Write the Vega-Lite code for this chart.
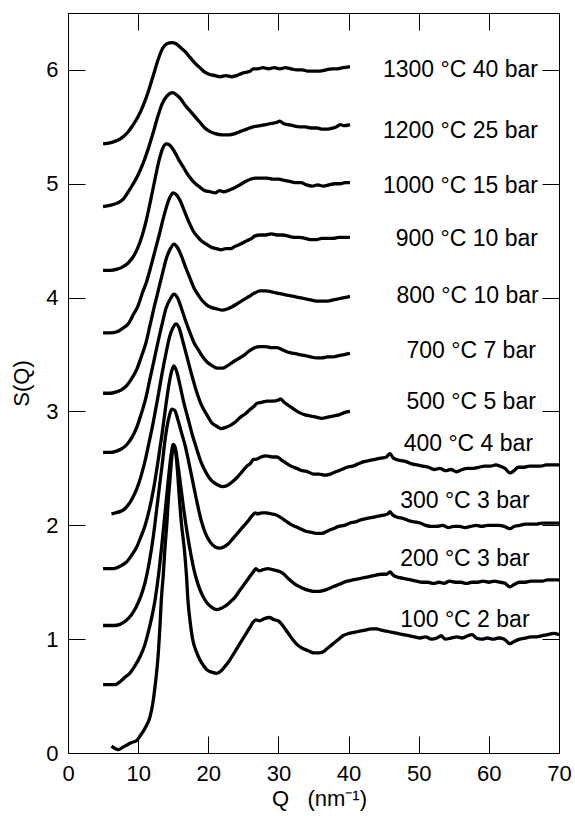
{
"$schema":"https://vega.github.io/schema/vega-lite/v6.json",
"width":491,"height":740,"autosize":"none",
"padding":{"left":68,"top":13,"right":16,"bottom":63},
"config":{"view":{"stroke":"#000","strokeWidth":1},"font":"Liberation Sans",
"axis":{"domain":false,"grid":false,"tickColor":"#000","tickSize":-17,"tickWidth":1,"labelFontSize":22,"labelColor":"#000","titleFontSize":22,"titleFontWeight":"normal","titleColor":"#000","labelFont":"Liberation Sans","titleFont":"Liberation Sans","labelFlush":false,"labelOverlap":false}},
"datasets":{
"labels":[
{"t":"1300 °C 40 bar","q":67.0,"s":5.94},
{"t":"1200 °C 25 bar","q":67.0,"s":5.405},
{"t":"1000 °C 15 bar","q":67.0,"s":4.92},
{"t":"900 °C 10 bar","q":67.0,"s":4.45},
{"t":"800 °C 10 bar","q":67.1,"s":3.95},
{"t":"700 °C 7 bar","q":66.7,"s":3.47},
{"t":"500 °C 5 bar","q":66.7,"s":3.02},
{"t":"400 °C 4 bar","q":66.3,"s":2.65},
{"t":"300 °C 3 bar","q":65.8,"s":2.15},
{"t":"200 °C 3 bar","q":65.8,"s":1.64},
{"t":"100 °C 2 bar","q":65.8,"s":1.11}],
"curves":[
{"c":"1300","q":5.0,"s":5.35},{"c":"1300","q":6.0,"s":5.36},{"c":"1300","q":7.0,"s":5.38},{"c":"1300","q":7.8,"s":5.41},{"c":"1300","q":8.5,"s":5.45},{"c":"1300","q":9.2,"s":5.51},{"c":"1300","q":10.0,"s":5.59},{"c":"1300","q":10.8,"s":5.70},{"c":"1300","q":11.5,"s":5.82},{"c":"1300","q":12.2,"s":5.96},{"c":"1300","q":12.9,"s":6.10},{"c":"1300","q":13.5,"s":6.19},{"c":"1300","q":14.1,"s":6.23},{"c":"1300","q":14.8,"s":6.24},{"c":"1300","q":15.4,"s":6.23},{"c":"1300","q":16.0,"s":6.20},{"c":"1300","q":16.7,"s":6.16},{"c":"1300","q":17.4,"s":6.11},{"c":"1300","q":18.1,"s":6.06},{"c":"1300","q":18.8,"s":6.02},{"c":"1300","q":19.5,"s":5.98},{"c":"1300","q":20.2,"s":5.96},{"c":"1300","q":21.0,"s":5.95},{"c":"1300","q":21.7,"s":5.94},{"c":"1300","q":22.5,"s":5.95},{"c":"1300","q":23.3,"s":5.94},{"c":"1300","q":24.0,"s":5.95},{"c":"1300","q":24.8,"s":5.97},{"c":"1300","q":25.5,"s":5.98},{"c":"1300","q":26.0,"s":5.99},{"c":"1300","q":26.4,"s":6.01},{"c":"1300","q":27.0,"s":6.01},{"c":"1300","q":27.8,"s":6.02},{"c":"1300","q":28.6,"s":6.01},{"c":"1300","q":29.4,"s":6.02},{"c":"1300","q":30.2,"s":6.01},{"c":"1300","q":31.0,"s":6.02},{"c":"1300","q":31.8,"s":6.01},{"c":"1300","q":32.6,"s":6.00},{"c":"1300","q":33.4,"s":6.00},{"c":"1300","q":34.2,"s":5.99},{"c":"1300","q":35.0,"s":5.99},{"c":"1300","q":35.9,"s":5.99},{"c":"1300","q":36.8,"s":6.00},{"c":"1300","q":37.6,"s":6.01},{"c":"1300","q":38.4,"s":6.01},{"c":"1300","q":39.2,"s":6.02},{"c":"1300","q":40.2,"s":6.03},
{"c":"1200","q":5.0,"s":4.80},{"c":"1200","q":6.0,"s":4.81},{"c":"1200","q":7.0,"s":4.83},{"c":"1200","q":7.8,"s":4.86},{"c":"1200","q":8.6,"s":4.93},{"c":"1200","q":9.3,"s":5.00},{"c":"1200","q":10.0,"s":5.08},{"c":"1200","q":10.7,"s":5.18},{"c":"1200","q":11.4,"s":5.30},{"c":"1200","q":12.1,"s":5.44},{"c":"1200","q":12.8,"s":5.59},{"c":"1200","q":13.4,"s":5.70},{"c":"1200","q":14.1,"s":5.77},{"c":"1200","q":14.9,"s":5.80},{"c":"1200","q":15.5,"s":5.78},{"c":"1200","q":16.0,"s":5.75},{"c":"1200","q":16.7,"s":5.69},{"c":"1200","q":17.4,"s":5.64},{"c":"1200","q":18.1,"s":5.59},{"c":"1200","q":18.8,"s":5.54},{"c":"1200","q":19.5,"s":5.49},{"c":"1200","q":20.2,"s":5.46},{"c":"1200","q":21.0,"s":5.44},{"c":"1200","q":22.0,"s":5.43},{"c":"1200","q":23.0,"s":5.43},{"c":"1200","q":23.8,"s":5.44},{"c":"1200","q":24.6,"s":5.46},{"c":"1200","q":25.5,"s":5.48},{"c":"1200","q":26.4,"s":5.50},{"c":"1200","q":27.4,"s":5.51},{"c":"1200","q":28.2,"s":5.52},{"c":"1200","q":29.0,"s":5.53},{"c":"1200","q":29.8,"s":5.54},{"c":"1200","q":30.2,"s":5.55},{"c":"1200","q":30.7,"s":5.53},{"c":"1200","q":31.4,"s":5.52},{"c":"1200","q":32.1,"s":5.51},{"c":"1200","q":33.0,"s":5.50},{"c":"1200","q":33.8,"s":5.50},{"c":"1200","q":34.6,"s":5.49},{"c":"1200","q":35.5,"s":5.49},{"c":"1200","q":36.3,"s":5.48},{"c":"1200","q":37.0,"s":5.48},{"c":"1200","q":37.8,"s":5.49},{"c":"1200","q":38.3,"s":5.50},{"c":"1200","q":38.8,"s":5.52},{"c":"1200","q":39.3,"s":5.51},{"c":"1200","q":40.2,"s":5.52},
{"c":"1000","q":5.0,"s":4.24},{"c":"1000","q":6.0,"s":4.24},{"c":"1000","q":7.0,"s":4.25},{"c":"1000","q":7.8,"s":4.27},{"c":"1000","q":8.5,"s":4.30},{"c":"1000","q":9.2,"s":4.35},{"c":"1000","q":9.9,"s":4.43},{"c":"1000","q":10.6,"s":4.55},{"c":"1000","q":11.2,"s":4.69},{"c":"1000","q":11.8,"s":4.86},{"c":"1000","q":12.4,"s":5.04},{"c":"1000","q":13.0,"s":5.21},{"c":"1000","q":13.5,"s":5.31},{"c":"1000","q":14.0,"s":5.35},{"c":"1000","q":14.5,"s":5.34},{"c":"1000","q":15.1,"s":5.29},{"c":"1000","q":15.8,"s":5.21},{"c":"1000","q":16.5,"s":5.14},{"c":"1000","q":17.2,"s":5.07},{"c":"1000","q":18.0,"s":5.01},{"c":"1000","q":18.8,"s":4.97},{"c":"1000","q":19.5,"s":4.94},{"c":"1000","q":20.3,"s":4.93},{"c":"1000","q":21.0,"s":4.92},{"c":"1000","q":21.6,"s":4.94},{"c":"1000","q":22.2,"s":4.93},{"c":"1000","q":22.8,"s":4.94},{"c":"1000","q":23.6,"s":4.96},{"c":"1000","q":24.5,"s":4.99},{"c":"1000","q":25.3,"s":5.02},{"c":"1000","q":26.0,"s":5.04},{"c":"1000","q":26.8,"s":5.05},{"c":"1000","q":27.6,"s":5.05},{"c":"1000","q":28.4,"s":5.05},{"c":"1000","q":29.2,"s":5.04},{"c":"1000","q":30.0,"s":5.04},{"c":"1000","q":30.8,"s":5.03},{"c":"1000","q":31.6,"s":5.02},{"c":"1000","q":32.4,"s":5.01},{"c":"1000","q":33.2,"s":5.01},{"c":"1000","q":34.0,"s":4.99},{"c":"1000","q":34.8,"s":4.98},{"c":"1000","q":35.6,"s":4.99},{"c":"1000","q":36.4,"s":4.98},{"c":"1000","q":37.2,"s":4.99},{"c":"1000","q":38.0,"s":5.00},{"c":"1000","q":38.8,"s":5.00},{"c":"1000","q":39.5,"s":5.01},{"c":"1000","q":40.2,"s":5.01},
{"c":"900","q":5.0,"s":3.69},{"c":"900","q":6.0,"s":3.69},{"c":"900","q":7.0,"s":3.70},{"c":"900","q":7.8,"s":3.73},{"c":"900","q":8.6,"s":3.77},{"c":"900","q":9.3,"s":3.85},{"c":"900","q":10.0,"s":3.93},{"c":"900","q":10.6,"s":4.04},{"c":"900","q":11.2,"s":4.14},{"c":"900","q":11.8,"s":4.27},{"c":"900","q":12.4,"s":4.41},{"c":"900","q":13.0,"s":4.55},{"c":"900","q":13.6,"s":4.70},{"c":"900","q":14.1,"s":4.81},{"c":"900","q":14.6,"s":4.89},{"c":"900","q":15.0,"s":4.92},{"c":"900","q":15.5,"s":4.90},{"c":"900","q":16.0,"s":4.85},{"c":"900","q":16.6,"s":4.76},{"c":"900","q":17.2,"s":4.67},{"c":"900","q":17.8,"s":4.59},{"c":"900","q":18.4,"s":4.54},{"c":"900","q":19.0,"s":4.50},{"c":"900","q":19.7,"s":4.47},{"c":"900","q":20.5,"s":4.44},{"c":"900","q":21.2,"s":4.43},{"c":"900","q":21.8,"s":4.42},{"c":"900","q":22.5,"s":4.43},{"c":"900","q":23.2,"s":4.43},{"c":"900","q":23.8,"s":4.45},{"c":"900","q":24.6,"s":4.47},{"c":"900","q":25.5,"s":4.50},{"c":"900","q":26.2,"s":4.52},{"c":"900","q":26.6,"s":4.54},{"c":"900","q":27.4,"s":4.55},{"c":"900","q":28.2,"s":4.55},{"c":"900","q":29.0,"s":4.56},{"c":"900","q":29.8,"s":4.55},{"c":"900","q":30.6,"s":4.55},{"c":"900","q":31.4,"s":4.54},{"c":"900","q":32.2,"s":4.53},{"c":"900","q":33.0,"s":4.53},{"c":"900","q":33.8,"s":4.52},{"c":"900","q":34.6,"s":4.51},{"c":"900","q":35.4,"s":4.51},{"c":"900","q":36.2,"s":4.52},{"c":"900","q":37.0,"s":4.52},{"c":"900","q":37.8,"s":4.52},{"c":"900","q":38.6,"s":4.53},{"c":"900","q":39.4,"s":4.53},{"c":"900","q":40.2,"s":4.53},
{"c":"800","q":5.0,"s":3.16},{"c":"800","q":6.0,"s":3.16},{"c":"800","q":6.8,"s":3.17},{"c":"800","q":7.6,"s":3.19},{"c":"800","q":8.4,"s":3.23},{"c":"800","q":9.1,"s":3.29},{"c":"800","q":9.8,"s":3.37},{"c":"800","q":10.5,"s":3.49},{"c":"800","q":11.1,"s":3.60},{"c":"800","q":11.7,"s":3.76},{"c":"800","q":12.3,"s":3.92},{"c":"800","q":12.9,"s":4.07},{"c":"800","q":13.5,"s":4.22},{"c":"800","q":14.0,"s":4.34},{"c":"800","q":14.6,"s":4.43},{"c":"800","q":15.1,"s":4.47},{"c":"800","q":15.6,"s":4.44},{"c":"800","q":16.2,"s":4.36},{"c":"800","q":16.8,"s":4.26},{"c":"800","q":17.4,"s":4.17},{"c":"800","q":18.0,"s":4.08},{"c":"800","q":18.6,"s":4.02},{"c":"800","q":19.2,"s":3.97},{"c":"800","q":19.9,"s":3.93},{"c":"800","q":20.6,"s":3.91},{"c":"800","q":21.3,"s":3.90},{"c":"800","q":22.0,"s":3.89},{"c":"800","q":22.7,"s":3.90},{"c":"800","q":23.4,"s":3.92},{"c":"800","q":24.2,"s":3.95},{"c":"800","q":25.0,"s":3.98},{"c":"800","q":25.8,"s":4.01},{"c":"800","q":26.6,"s":4.04},{"c":"800","q":27.4,"s":4.06},{"c":"800","q":28.2,"s":4.06},{"c":"800","q":29.0,"s":4.05},{"c":"800","q":29.8,"s":4.04},{"c":"800","q":30.6,"s":4.03},{"c":"800","q":31.4,"s":4.02},{"c":"800","q":32.2,"s":4.01},{"c":"800","q":33.0,"s":4.00},{"c":"800","q":33.8,"s":3.99},{"c":"800","q":34.6,"s":3.98},{"c":"800","q":35.4,"s":3.97},{"c":"800","q":36.2,"s":3.97},{"c":"800","q":37.0,"s":3.97},{"c":"800","q":37.8,"s":3.98},{"c":"800","q":38.6,"s":3.99},{"c":"800","q":39.4,"s":4.00},{"c":"800","q":40.2,"s":4.01},
{"c":"700","q":5.0,"s":2.64},{"c":"700","q":6.0,"s":2.64},{"c":"700","q":6.8,"s":2.65},{"c":"700","q":7.6,"s":2.67},{"c":"700","q":8.4,"s":2.71},{"c":"700","q":9.1,"s":2.77},{"c":"700","q":9.8,"s":2.86},{"c":"700","q":10.5,"s":2.99},{"c":"700","q":11.1,"s":3.12},{"c":"700","q":11.7,"s":3.29},{"c":"700","q":12.3,"s":3.46},{"c":"700","q":12.9,"s":3.63},{"c":"700","q":13.5,"s":3.79},{"c":"700","q":14.0,"s":3.91},{"c":"700","q":14.6,"s":3.99},{"c":"700","q":15.1,"s":4.03},{"c":"700","q":15.6,"s":4.00},{"c":"700","q":16.2,"s":3.90},{"c":"700","q":16.8,"s":3.79},{"c":"700","q":17.4,"s":3.69},{"c":"700","q":18.0,"s":3.60},{"c":"700","q":18.6,"s":3.54},{"c":"700","q":19.2,"s":3.48},{"c":"700","q":19.9,"s":3.43},{"c":"700","q":20.6,"s":3.40},{"c":"700","q":21.3,"s":3.38},{"c":"700","q":22.0,"s":3.38},{"c":"700","q":22.7,"s":3.40},{"c":"700","q":23.4,"s":3.43},{"c":"700","q":24.2,"s":3.46},{"c":"700","q":25.0,"s":3.49},{"c":"700","q":25.8,"s":3.53},{"c":"700","q":26.6,"s":3.56},{"c":"700","q":27.4,"s":3.57},{"c":"700","q":28.2,"s":3.57},{"c":"700","q":29.0,"s":3.56},{"c":"700","q":29.8,"s":3.56},{"c":"700","q":30.6,"s":3.54},{"c":"700","q":31.4,"s":3.52},{"c":"700","q":32.2,"s":3.51},{"c":"700","q":33.0,"s":3.50},{"c":"700","q":33.8,"s":3.49},{"c":"700","q":34.6,"s":3.48},{"c":"700","q":35.4,"s":3.47},{"c":"700","q":36.2,"s":3.47},{"c":"700","q":37.0,"s":3.48},{"c":"700","q":37.8,"s":3.48},{"c":"700","q":38.6,"s":3.49},{"c":"700","q":39.4,"s":3.50},{"c":"700","q":40.2,"s":3.51},
{"c":"500","q":6.2,"s":2.10},{"c":"500","q":6.8,"s":2.11},{"c":"500","q":7.4,"s":2.12},{"c":"500","q":8.0,"s":2.14},{"c":"500","q":8.6,"s":2.18},{"c":"500","q":9.2,"s":2.24},{"c":"500","q":9.8,"s":2.32},{"c":"500","q":10.4,"s":2.43},{"c":"500","q":11.0,"s":2.57},{"c":"500","q":11.6,"s":2.74},{"c":"500","q":12.2,"s":2.92},{"c":"500","q":12.8,"s":3.12},{"c":"500","q":13.4,"s":3.33},{"c":"500","q":14.0,"s":3.52},{"c":"500","q":14.5,"s":3.66},{"c":"500","q":15.0,"s":3.74},{"c":"500","q":15.4,"s":3.77},{"c":"500","q":15.8,"s":3.74},{"c":"500","q":16.4,"s":3.61},{"c":"500","q":17.0,"s":3.47},{"c":"500","q":17.6,"s":3.33},{"c":"500","q":18.3,"s":3.18},{"c":"500","q":19.0,"s":3.06},{"c":"500","q":19.8,"s":2.97},{"c":"500","q":20.5,"s":2.90},{"c":"500","q":21.2,"s":2.87},{"c":"500","q":21.8,"s":2.85},{"c":"500","q":22.5,"s":2.86},{"c":"500","q":23.2,"s":2.88},{"c":"500","q":23.9,"s":2.91},{"c":"500","q":24.6,"s":2.95},{"c":"500","q":25.3,"s":2.98},{"c":"500","q":26.0,"s":3.02},{"c":"500","q":26.6,"s":3.05},{"c":"500","q":26.9,"s":3.07},{"c":"500","q":27.6,"s":3.08},{"c":"500","q":28.4,"s":3.09},{"c":"500","q":29.2,"s":3.09},{"c":"500","q":30.0,"s":3.10},{"c":"500","q":30.3,"s":3.11},{"c":"500","q":30.8,"s":3.08},{"c":"500","q":31.5,"s":3.05},{"c":"500","q":32.2,"s":3.02},{"c":"500","q":33.0,"s":2.99},{"c":"500","q":33.8,"s":2.97},{"c":"500","q":34.6,"s":2.96},{"c":"500","q":35.4,"s":2.95},{"c":"500","q":36.2,"s":2.94},{"c":"500","q":37.0,"s":2.95},{"c":"500","q":37.8,"s":2.96},{"c":"500","q":38.6,"s":2.97},{"c":"500","q":39.4,"s":2.99},{"c":"500","q":40.2,"s":3.00},
{"c":"400","q":5.0,"s":1.62},{"c":"400","q":5.8,"s":1.62},{"c":"400","q":6.5,"s":1.62},{"c":"400","q":7.4,"s":1.64},{"c":"400","q":8.4,"s":1.68},{"c":"400","q":9.1,"s":1.74},{"c":"400","q":9.8,"s":1.81},{"c":"400","q":10.4,"s":1.90},{"c":"400","q":11.0,"s":2.00},{"c":"400","q":11.6,"s":2.14},{"c":"400","q":12.2,"s":2.32},{"c":"400","q":12.8,"s":2.55},{"c":"400","q":13.4,"s":2.80},{"c":"400","q":13.9,"s":3.03},{"c":"400","q":14.4,"s":3.24},{"c":"400","q":14.8,"s":3.36},{"c":"400","q":15.1,"s":3.40},{"c":"400","q":15.5,"s":3.35},{"c":"400","q":16.0,"s":3.22},{"c":"400","q":16.5,"s":3.08},{"c":"400","q":17.1,"s":2.94},{"c":"400","q":17.7,"s":2.80},{"c":"400","q":18.3,"s":2.68},{"c":"400","q":19.0,"s":2.55},{"c":"400","q":19.8,"s":2.45},{"c":"400","q":20.5,"s":2.39},{"c":"400","q":21.2,"s":2.36},{"c":"400","q":22.0,"s":2.34},{"c":"400","q":22.7,"s":2.35},{"c":"400","q":23.4,"s":2.38},{"c":"400","q":24.1,"s":2.42},{"c":"400","q":24.8,"s":2.47},{"c":"400","q":25.5,"s":2.52},{"c":"400","q":26.1,"s":2.55},{"c":"400","q":26.4,"s":2.58},{"c":"400","q":26.8,"s":2.58},{"c":"400","q":27.5,"s":2.60},{"c":"400","q":28.3,"s":2.61},{"c":"400","q":29.1,"s":2.60},{"c":"400","q":29.8,"s":2.60},{"c":"400","q":30.3,"s":2.58},{"c":"400","q":31.0,"s":2.55},{"c":"400","q":31.8,"s":2.52},{"c":"400","q":32.6,"s":2.50},{"c":"400","q":33.4,"s":2.48},{"c":"400","q":34.2,"s":2.47},{"c":"400","q":35.0,"s":2.45},{"c":"400","q":35.8,"s":2.45},{"c":"400","q":36.6,"s":2.44},{"c":"400","q":37.4,"s":2.45},{"c":"400","q":38.2,"s":2.47},{"c":"400","q":39.0,"s":2.49},{"c":"400","q":39.8,"s":2.51},{"c":"400","q":40.6,"s":2.52},{"c":"400","q":41.4,"s":2.54},{"c":"400","q":42.2,"s":2.56},{"c":"400","q":43.0,"s":2.57},{"c":"400","q":43.8,"s":2.58},{"c":"400","q":44.6,"s":2.59},{"c":"400","q":45.4,"s":2.60},{"c":"400","q":45.9,"s":2.63},{"c":"400","q":46.4,"s":2.59},{"c":"400","q":47.3,"s":2.57},{"c":"400","q":48.2,"s":2.56},{"c":"400","q":49.0,"s":2.54},{"c":"400","q":49.8,"s":2.53},{"c":"400","q":50.6,"s":2.52},{"c":"400","q":51.4,"s":2.51},{"c":"400","q":52.2,"s":2.49},{"c":"400","q":53.0,"s":2.50},{"c":"400","q":53.8,"s":2.48},{"c":"400","q":54.6,"s":2.49},{"c":"400","q":55.4,"s":2.47},{"c":"400","q":56.2,"s":2.49},{"c":"400","q":57.0,"s":2.50},{"c":"400","q":57.8,"s":2.50},{"c":"400","q":58.6,"s":2.51},{"c":"400","q":59.4,"s":2.52},{"c":"400","q":60.2,"s":2.52},{"c":"400","q":61.0,"s":2.53},{"c":"400","q":61.6,"s":2.52},{"c":"400","q":62.3,"s":2.50},{"c":"400","q":63.0,"s":2.46},{"c":"400","q":63.6,"s":2.48},{"c":"400","q":64.2,"s":2.51},{"c":"400","q":65.0,"s":2.51},{"c":"400","q":65.8,"s":2.52},{"c":"400","q":66.6,"s":2.52},{"c":"400","q":67.4,"s":2.52},{"c":"400","q":68.2,"s":2.53},{"c":"400","q":69.0,"s":2.53},{"c":"400","q":70.0,"s":2.53},
{"c":"300","q":5.0,"s":1.12},{"c":"300","q":5.8,"s":1.12},{"c":"300","q":6.6,"s":1.12},{"c":"300","q":7.4,"s":1.13},{"c":"300","q":8.2,"s":1.16},{"c":"300","q":9.0,"s":1.21},{"c":"300","q":9.7,"s":1.28},{"c":"300","q":10.4,"s":1.38},{"c":"300","q":11.0,"s":1.50},{"c":"300","q":11.6,"s":1.68},{"c":"300","q":12.2,"s":1.92},{"c":"300","q":12.8,"s":2.22},{"c":"300","q":13.4,"s":2.52},{"c":"300","q":13.9,"s":2.78},{"c":"300","q":14.4,"s":2.95},{"c":"300","q":14.8,"s":3.02},{"c":"300","q":15.2,"s":3.01},{"c":"300","q":15.7,"s":2.92},{"c":"300","q":16.2,"s":2.81},{"c":"300","q":16.7,"s":2.70},{"c":"300","q":17.2,"s":2.56},{"c":"300","q":17.8,"s":2.38},{"c":"300","q":18.4,"s":2.20},{"c":"300","q":19.0,"s":2.04},{"c":"300","q":19.6,"s":1.93},{"c":"300","q":20.3,"s":1.85},{"c":"300","q":21.0,"s":1.81},{"c":"300","q":21.6,"s":1.80},{"c":"300","q":22.2,"s":1.81},{"c":"300","q":22.9,"s":1.84},{"c":"300","q":23.6,"s":1.89},{"c":"300","q":24.3,"s":1.94},{"c":"300","q":25.0,"s":1.99},{"c":"300","q":25.7,"s":2.04},{"c":"300","q":26.2,"s":2.08},{"c":"300","q":26.7,"s":2.11},{"c":"300","q":27.0,"s":2.10},{"c":"300","q":27.6,"s":2.11},{"c":"300","q":28.3,"s":2.11},{"c":"300","q":29.0,"s":2.10},{"c":"300","q":29.7,"s":2.09},{"c":"300","q":30.3,"s":2.07},{"c":"300","q":31.0,"s":2.04},{"c":"300","q":31.7,"s":2.01},{"c":"300","q":32.4,"s":1.99},{"c":"300","q":33.1,"s":1.97},{"c":"300","q":33.8,"s":1.95},{"c":"300","q":34.6,"s":1.94},{"c":"300","q":35.4,"s":1.93},{"c":"300","q":36.2,"s":1.93},{"c":"300","q":37.0,"s":1.95},{"c":"300","q":37.8,"s":1.97},{"c":"300","q":38.6,"s":1.99},{"c":"300","q":39.4,"s":2.00},{"c":"300","q":40.2,"s":2.02},{"c":"300","q":41.0,"s":2.03},{"c":"300","q":41.8,"s":2.05},{"c":"300","q":42.6,"s":2.06},{"c":"300","q":43.4,"s":2.07},{"c":"300","q":44.2,"s":2.08},{"c":"300","q":45.0,"s":2.09},{"c":"300","q":45.6,"s":2.10},{"c":"300","q":45.9,"s":2.12},{"c":"300","q":46.3,"s":2.09},{"c":"300","q":47.0,"s":2.07},{"c":"300","q":47.8,"s":2.06},{"c":"300","q":48.6,"s":2.04},{"c":"300","q":49.4,"s":2.03},{"c":"300","q":50.2,"s":2.02},{"c":"300","q":51.0,"s":2.00},{"c":"300","q":51.8,"s":1.99},{"c":"300","q":52.6,"s":1.99},{"c":"300","q":53.4,"s":2.00},{"c":"300","q":54.2,"s":1.98},{"c":"300","q":55.0,"s":1.99},{"c":"300","q":55.8,"s":1.99},{"c":"300","q":56.6,"s":1.98},{"c":"300","q":57.4,"s":1.99},{"c":"300","q":58.2,"s":2.00},{"c":"300","q":59.0,"s":1.99},{"c":"300","q":59.8,"s":2.00},{"c":"300","q":60.6,"s":2.00},{"c":"300","q":61.4,"s":2.00},{"c":"300","q":62.2,"s":1.99},{"c":"300","q":63.0,"s":1.97},{"c":"300","q":63.6,"s":1.99},{"c":"300","q":64.4,"s":2.00},{"c":"300","q":65.2,"s":2.01},{"c":"300","q":66.0,"s":2.01},{"c":"300","q":66.8,"s":2.01},{"c":"300","q":67.6,"s":2.02},{"c":"300","q":68.4,"s":2.02},{"c":"300","q":69.2,"s":2.02},{"c":"300","q":70.0,"s":2.02},
{"c":"200","q":5.0,"s":0.60},{"c":"200","q":5.8,"s":0.60},{"c":"200","q":6.7,"s":0.60},{"c":"200","q":7.5,"s":0.63},{"c":"200","q":8.2,"s":0.67},{"c":"200","q":8.8,"s":0.70},{"c":"200","q":9.5,"s":0.76},{"c":"200","q":10.3,"s":0.85},{"c":"200","q":10.9,"s":0.94},{"c":"200","q":11.4,"s":1.05},{"c":"200","q":11.9,"s":1.18},{"c":"200","q":12.4,"s":1.34},{"c":"200","q":12.9,"s":1.56},{"c":"200","q":13.4,"s":1.84},{"c":"200","q":13.9,"s":2.15},{"c":"200","q":14.3,"s":2.40},{"c":"200","q":14.7,"s":2.62},{"c":"200","q":15.0,"s":2.71},{"c":"200","q":15.3,"s":2.68},{"c":"200","q":15.7,"s":2.52},{"c":"200","q":16.1,"s":2.33},{"c":"200","q":16.5,"s":2.14},{"c":"200","q":17.0,"s":1.93},{"c":"200","q":17.5,"s":1.75},{"c":"200","q":18.0,"s":1.60},{"c":"200","q":18.6,"s":1.47},{"c":"200","q":19.2,"s":1.38},{"c":"200","q":19.8,"s":1.32},{"c":"200","q":20.5,"s":1.28},{"c":"200","q":21.2,"s":1.26},{"c":"200","q":21.8,"s":1.27},{"c":"200","q":22.4,"s":1.29},{"c":"200","q":23.0,"s":1.32},{"c":"200","q":23.7,"s":1.36},{"c":"200","q":24.4,"s":1.42},{"c":"200","q":25.1,"s":1.48},{"c":"200","q":25.8,"s":1.54},{"c":"200","q":26.4,"s":1.59},{"c":"200","q":26.8,"s":1.62},{"c":"200","q":27.2,"s":1.60},{"c":"200","q":27.8,"s":1.61},{"c":"200","q":28.5,"s":1.62},{"c":"200","q":29.2,"s":1.61},{"c":"200","q":29.9,"s":1.60},{"c":"200","q":30.6,"s":1.58},{"c":"200","q":31.3,"s":1.54},{"c":"200","q":32.0,"s":1.50},{"c":"200","q":32.7,"s":1.47},{"c":"200","q":33.4,"s":1.45},{"c":"200","q":34.2,"s":1.43},{"c":"200","q":35.0,"s":1.42},{"c":"200","q":35.8,"s":1.42},{"c":"200","q":36.6,"s":1.43},{"c":"200","q":37.4,"s":1.45},{"c":"200","q":38.2,"s":1.47},{"c":"200","q":39.0,"s":1.49},{"c":"200","q":39.8,"s":1.51},{"c":"200","q":40.6,"s":1.52},{"c":"200","q":41.4,"s":1.53},{"c":"200","q":42.2,"s":1.54},{"c":"200","q":43.0,"s":1.55},{"c":"200","q":43.8,"s":1.56},{"c":"200","q":44.6,"s":1.57},{"c":"200","q":45.4,"s":1.57},{"c":"200","q":45.9,"s":1.59},{"c":"200","q":46.4,"s":1.56},{"c":"200","q":47.3,"s":1.54},{"c":"200","q":48.1,"s":1.53},{"c":"200","q":48.9,"s":1.52},{"c":"200","q":49.7,"s":1.51},{"c":"200","q":50.5,"s":1.50},{"c":"200","q":51.3,"s":1.50},{"c":"200","q":52.1,"s":1.49},{"c":"200","q":52.9,"s":1.50},{"c":"200","q":53.6,"s":1.49},{"c":"200","q":54.4,"s":1.51},{"c":"200","q":55.2,"s":1.50},{"c":"200","q":56.0,"s":1.50},{"c":"200","q":56.8,"s":1.49},{"c":"200","q":57.6,"s":1.50},{"c":"200","q":58.4,"s":1.50},{"c":"200","q":59.2,"s":1.51},{"c":"200","q":60.0,"s":1.50},{"c":"200","q":60.8,"s":1.51},{"c":"200","q":61.6,"s":1.50},{"c":"200","q":62.3,"s":1.49},{"c":"200","q":63.0,"s":1.46},{"c":"200","q":63.6,"s":1.48},{"c":"200","q":64.4,"s":1.50},{"c":"200","q":65.2,"s":1.50},{"c":"200","q":66.0,"s":1.51},{"c":"200","q":66.8,"s":1.51},{"c":"200","q":67.6,"s":1.51},{"c":"200","q":68.4,"s":1.52},{"c":"200","q":69.2,"s":1.52},{"c":"200","q":70.0,"s":1.52},
{"c":"100","q":6.2,"s":0.06},{"c":"100","q":6.7,"s":0.04},{"c":"100","q":7.2,"s":0.03},{"c":"100","q":7.8,"s":0.05},{"c":"100","q":8.4,"s":0.07},{"c":"100","q":9.0,"s":0.09},{"c":"100","q":9.8,"s":0.11},{"c":"100","q":10.4,"s":0.16},{"c":"100","q":11.0,"s":0.22},{"c":"100","q":11.7,"s":0.32},{"c":"100","q":12.1,"s":0.44},{"c":"100","q":12.4,"s":0.58},{"c":"100","q":12.7,"s":0.75},{"c":"100","q":12.9,"s":0.90},{"c":"100","q":13.1,"s":1.10},{"c":"100","q":13.3,"s":1.34},{"c":"100","q":13.6,"s":1.58},{"c":"100","q":13.8,"s":1.78},{"c":"100","q":14.1,"s":2.02},{"c":"100","q":14.3,"s":2.22},{"c":"100","q":14.6,"s":2.45},{"c":"100","q":14.8,"s":2.60},{"c":"100","q":15.1,"s":2.69},{"c":"100","q":15.4,"s":2.62},{"c":"100","q":15.7,"s":2.40},{"c":"100","q":15.9,"s":2.22},{"c":"100","q":16.2,"s":2.00},{"c":"100","q":16.6,"s":1.78},{"c":"100","q":16.9,"s":1.55},{"c":"100","q":17.1,"s":1.34},{"c":"100","q":17.4,"s":1.16},{"c":"100","q":17.8,"s":0.99},{"c":"100","q":18.3,"s":0.89},{"c":"100","q":18.8,"s":0.82},{"c":"100","q":19.3,"s":0.77},{"c":"100","q":19.8,"s":0.73},{"c":"100","q":20.5,"s":0.71},{"c":"100","q":21.2,"s":0.70},{"c":"100","q":21.8,"s":0.72},{"c":"100","q":22.5,"s":0.77},{"c":"100","q":23.0,"s":0.81},{"c":"100","q":23.5,"s":0.86},{"c":"100","q":24.2,"s":0.93},{"c":"100","q":24.9,"s":1.00},{"c":"100","q":25.5,"s":1.06},{"c":"100","q":26.0,"s":1.11},{"c":"100","q":26.4,"s":1.15},{"c":"100","q":26.8,"s":1.17},{"c":"100","q":27.3,"s":1.16},{"c":"100","q":28.0,"s":1.18},{"c":"100","q":28.7,"s":1.19},{"c":"100","q":29.4,"s":1.17},{"c":"100","q":30.0,"s":1.16},{"c":"100","q":30.6,"s":1.12},{"c":"100","q":31.3,"s":1.06},{"c":"100","q":32.0,"s":1.00},{"c":"100","q":32.7,"s":0.95},{"c":"100","q":33.4,"s":0.92},{"c":"100","q":34.2,"s":0.90},{"c":"100","q":35.0,"s":0.88},{"c":"100","q":35.7,"s":0.88},{"c":"100","q":36.4,"s":0.89},{"c":"100","q":37.0,"s":0.92},{"c":"100","q":37.6,"s":0.95},{"c":"100","q":38.4,"s":0.99},{"c":"100","q":39.2,"s":1.03},{"c":"100","q":40.0,"s":1.05},{"c":"100","q":40.8,"s":1.06},{"c":"100","q":41.6,"s":1.07},{"c":"100","q":42.4,"s":1.08},{"c":"100","q":43.2,"s":1.09},{"c":"100","q":44.0,"s":1.09},{"c":"100","q":44.6,"s":1.08},{"c":"100","q":45.4,"s":1.07},{"c":"100","q":46.2,"s":1.06},{"c":"100","q":47.0,"s":1.05},{"c":"100","q":47.8,"s":1.04},{"c":"100","q":48.6,"s":1.03},{"c":"100","q":49.4,"s":1.02},{"c":"100","q":50.2,"s":1.01},{"c":"100","q":51.0,"s":1.02},{"c":"100","q":51.8,"s":1.00},{"c":"100","q":52.6,"s":1.01},{"c":"100","q":53.2,"s":1.03},{"c":"100","q":53.8,"s":1.00},{"c":"100","q":54.6,"s":1.01},{"c":"100","q":55.4,"s":1.02},{"c":"100","q":56.2,"s":1.01},{"c":"100","q":57.0,"s":1.03},{"c":"100","q":57.6,"s":1.04},{"c":"100","q":58.2,"s":1.01},{"c":"100","q":59.0,"s":1.00},{"c":"100","q":59.8,"s":1.01},{"c":"100","q":60.6,"s":1.00},{"c":"100","q":61.4,"s":1.01},{"c":"100","q":62.2,"s":1.00},{"c":"100","q":63.0,"s":0.96},{"c":"100","q":63.6,"s":0.98},{"c":"100","q":64.4,"s":1.00},{"c":"100","q":65.2,"s":1.01},{"c":"100","q":66.0,"s":1.02},{"c":"100","q":66.8,"s":1.02},{"c":"100","q":67.6,"s":1.03},{"c":"100","q":68.4,"s":1.04},{"c":"100","q":69.2,"s":1.05},{"c":"100","q":70.0,"s":1.04}
]},
"layer":[
{"data":{"name":"curves"},
 "mark":{"type":"line","color":"#000","strokeWidth":3.3,"interpolate":"monotone"},
 "encoding":{
  "x":{"field":"q","type":"quantitative","scale":{"domain":[0,70],"nice":false,"zero":false},
       "axis":{"orient":"bottom","values":[0,10,20,30,40,50,60,70],"labelPadding":27,"title":"Q\u00a0\u00a0\u00a0(nm⁻¹)","titlePadding":4,"titleX":251}},
  "y":{"field":"s","type":"quantitative","scale":{"domain":[0,6.5],"nice":false,"zero":false},
       "axis":{"orient":"left","values":[0,1,2,3,4,5,6],"labelPadding":27,"title":"S(Q)","titlePadding":12}},
  "detail":{"field":"c"}}},
{"data":{"name":"labels"},
 "mark":{"type":"text","align":"right","baseline":"alphabetic","fontSize":23,"font":"Liberation Sans","color":"#000"},
 "encoding":{
  "x":{"field":"q","type":"quantitative","scale":{"domain":[0,70],"nice":false,"zero":false},
       "axis":{"orient":"top","values":[0,10,20,30,40,50,60,70],"labels":false,"title":null}},
  "y":{"field":"s","type":"quantitative","scale":{"domain":[0,6.5],"nice":false,"zero":false},
       "axis":{"orient":"right","values":[0,1,2,3,4,5,6],"labels":false,"title":null}},
  "text":{"field":"t"}}}
],
"resolve":{"axis":{"x":"independent","y":"independent"}}
}
